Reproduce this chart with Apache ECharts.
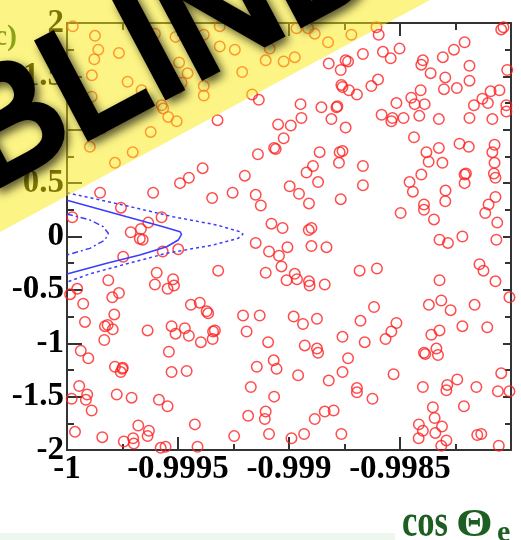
<!DOCTYPE html>
<html>
<head>
<meta charset="utf-8">
<script src="https://cdn.jsdelivr.net/npm/echarts@6.0.0/dist/echarts.min.js"></script>
<style>
  html, body { margin: 0; padding: 0; background: #fff; }
  #chart { width: 521px; height: 540px; }
</style>
</head>
<body>
<div id="chart"></div>
<script>
// Tick labels
const cosThetaTicks = ['-1', '-0.9995', '-0.999', '-0.9985', ''];
const yTicks = ['-2', '-1.5', '-1', '-0.5', '0', '0.5', '1', '1.5', '2'];

// Events [cosTheta_e, y], upper-left part of the plane
const eventsUpperLeft = [
  [-0.999974,1.97],[-0.999874,1.88],[-0.999859,1.75],[-0.999877,1.66],[-0.999766,1.72],
  [-0.999604,1.90],[-0.999511,1.87],[-0.999384,1.89],[-0.999312,1.97],[-0.999312,1.78],
  [-0.999244,1.75],[-0.999495,1.63],[-0.999457,1.53],[-0.999484,1.44],[-0.999499,1.39],
  [-0.999384,1.41],[-0.999384,1.32],[-0.999211,1.54],[-0.999166,1.33],[-0.999888,1.51],
  [-0.999727,1.45],[-0.999664,1.37],[-0.999889,1.31],[-0.999574,1.23],[-0.999567,1.20],
  [-0.999544,1.12],[-0.999506,1.08],[-0.999623,0.98],[-0.999844,1.01],[-0.999897,0.84],
  [-0.999704,0.79],[-0.999784,0.69],[-0.999322,1.09],[-0.999136,1.28],[-0.999140,0.77],
  [-0.999851,0.41],[-0.999612,0.41],[-0.999491,0.50],[-0.999451,0.55],[-0.999389,0.64],
  [-0.999199,0.57],[-0.999346,0.36],[-0.999254,0.41],[-0.999150,0.39],[-0.999757,0.27],
  [-0.999976,0.18],[-0.999574,0.18],[-0.999634,0.13],[-0.999713,0.04],[-0.999667,0.07],
  [-0.999672,-0.02],[-0.999659,-0.03],[-0.999569,-0.14],[-0.999499,-0.12],[-0.999747,-0.19],
  [-0.999150,-0.06],[-0.999127,0.29]
];

// Upper-right part
const eventsUpperRight = [
  [-0.998966,1.95],[-0.998914,1.95],[-0.998884,1.90],[-0.998824,1.82],[-0.998719,1.89],
  [-0.998606,1.96],[-0.998596,1.89],[-0.999119,1.85],[-0.999087,1.76],[-0.999105,1.65],
  [-0.999024,1.64],[-0.998974,1.68],
  [-0.998044,1.94],[-0.998034,1.96],[-0.998209,1.82],[-0.998257,1.75],[-0.998307,1.68],
  [-0.998397,1.65],[-0.998404,1.61],[-0.998362,1.53],[-0.998502,1.76],[-0.998542,1.67],
  [-0.998577,1.73],[-0.998667,1.71],[-0.998745,1.65],[-0.998734,1.64],[-0.998821,1.62],
  [-0.998767,1.56],[-0.998187,1.60],[-0.998017,1.56],[-0.998296,1.49],[-0.998187,1.46],
  [-0.998302,1.38],[-0.998244,1.39],[-0.998407,1.37],[-0.998449,1.30],[-0.998434,1.24],
  [-0.998389,1.24],[-0.998516,1.25],[-0.998583,1.14],[-0.998534,1.11],[-0.998539,1.08],
  [-0.998484,1.11],[-0.998413,1.13],[-0.998325,1.10],[-0.998187,1.11],[-0.998092,1.36],
  [-0.998052,1.37],[-0.998129,1.29],[-0.998167,1.23],[-0.998104,1.25],[-0.998021,1.23],
  [-0.998021,1.17],[-0.998084,1.10],[-0.998948,1.24],[-0.998854,1.21],[-0.998786,1.21],
  [-0.998782,1.22],[-0.998809,1.10],[-0.998944,1.11],[-0.998992,1.04],[-0.999049,1.05],
  [-0.998745,1.02],[-0.998694,1.33],[-0.998730,1.37],[-0.998764,1.42],[-0.998759,1.40],
  [-0.998629,1.41],[-0.998599,1.47],[-0.998437,0.93],[-0.998381,0.79],[-0.998325,0.83],
  [-0.998232,0.87],[-0.998190,0.84],[-0.998074,0.86],[-0.998084,0.79],[-0.998309,0.69],
  [-0.998371,0.70],[-0.998404,0.58],[-0.998457,0.51],[-0.998442,0.42],[-0.998295,0.43],
  [-0.998296,0.33],[-0.998392,0.30],[-0.998392,0.25],[-0.998497,0.22],[-0.998347,0.16],
  [-0.998209,0.58],[-0.998203,0.59],[-0.998209,0.50],[-0.998074,0.69],[-0.998077,0.59],
  [-0.998070,0.55],[-0.998070,0.37],[-0.998101,0.30],[-0.998116,0.22],[-0.998062,0.13],
  [-0.998066,-0.03],[-0.998219,0.00],[-0.998322,-0.03],[-0.998284,-0.06],[-0.998772,0.79],
  [-0.998759,0.80],[-0.998775,0.69],[-0.998862,0.79],[-0.998892,0.66],[-0.998921,0.60],
  [-0.998869,0.51],[-0.998997,0.47],[-0.998955,0.40],[-0.998910,0.31],[-0.998767,0.35],
  [-0.998667,0.66],[-0.998667,0.48],[-0.999024,0.92],[-0.999060,0.82],[-0.999067,0.83],
  [-0.999079,0.12],[-0.999029,0.08],[-0.998911,0.06],[-0.998899,0.08],[-0.999007,-0.10],
  [-0.998899,-0.09],[-0.998831,-0.10],[-0.999090,-0.14],[-0.999045,-0.18]
];

// Lower-left part
const eventsLowerLeft = [
  [-0.999596,-0.34],[-0.999522,-0.40],[-0.999604,-0.45],[-0.999547,-0.49],[-0.999518,-0.46],
  [-0.999319,-0.32],[-0.999954,-0.49],[-0.999986,-0.54],[-0.999814,-0.41],[-0.999766,-0.53],
  [-0.999796,-0.57],[-0.999927,-0.63],[-0.999919,-0.80],[-0.999787,-0.73],[-0.999829,-0.84],
  [-0.999817,-0.83],[-0.999794,-0.87],[-0.999832,-0.97],[-0.999637,-0.88],[-0.999529,-0.84],
  [-0.999511,-0.91],[-0.999469,-0.86],[-0.999451,-0.93],[-0.999442,-0.64],[-0.999402,-0.62],
  [-0.999371,-0.70],[-0.999364,-0.72],[-0.999397,-0.99],[-0.999344,-0.96],[-0.999342,-0.89],
  [-0.999334,-0.88],[-0.999207,-0.74],[-0.999191,-0.89],[-0.999132,-0.74],[-0.999938,-1.07],
  [-0.999904,-1.14],[-0.999541,-1.08],[-0.999529,-1.27],[-0.999461,-1.26],[-0.999784,-1.22],
  [-0.999749,-1.23],[-0.999758,-1.27],[-0.999751,-1.24],[-0.999145,-1.22],[-0.999172,-1.41],
  [-0.999945,-1.40],[-0.999909,-1.48],[-0.999915,-1.53],[-0.999979,-1.52],[-0.999889,-1.63],
  [-0.999776,-1.48],[-0.999709,-1.51],[-0.999586,-1.53],[-0.999547,-1.59],[-0.999184,-1.68],
  [-0.999424,-1.76],[-0.999679,-1.77],[-0.999631,-1.82],[-0.999637,-1.87],[-0.999964,-1.83],
  [-0.999841,-1.88],[-0.999744,-1.92],[-0.999702,-1.89],[-0.999699,-1.94],[-0.999578,-1.98],
  [-0.999556,-1.97],[-0.999412,-1.97],[-0.999247,-1.87]
];

// Lower-right part
const eventsLowerRight = [
  [-0.999105,-0.34],[-0.999034,-0.28],[-0.998974,-0.35],[-0.999011,-0.41],[-0.998964,-0.40],
  [-0.998910,-0.42],[-0.998907,-0.46],[-0.998839,-0.45],[-0.998682,-0.32],[-0.998604,-0.30],
  [-0.998142,-0.26],[-0.998124,-0.32],[-0.998070,-0.42],[-0.998007,-0.57],[-0.998322,-0.41],
  [-0.998314,-0.60],[-0.998370,-0.64],[-0.998272,-0.69],[-0.998164,-0.64],[-0.998979,-0.75],
  [-0.998937,-0.82],[-0.998874,-0.77],[-0.998617,-0.66],[-0.998678,-0.79],[-0.998516,-0.81],
  [-0.998539,-0.89],[-0.998565,-0.96],[-0.998659,-0.99],[-0.998759,-0.94],[-0.998322,-0.88],
  [-0.998359,-0.92],[-0.998219,-0.84],[-0.998107,-0.85],[-0.999094,-0.99],[-0.998929,-1.02],
  [-0.998874,-1.05],[-0.998869,-1.09],[-0.998734,-1.14],[-0.998759,-1.27],[-0.998821,-1.35],
  [-0.998959,-1.30],[-0.999069,-1.16],[-0.999056,-1.24],[-0.998529,-1.29],[-0.998392,-1.09],
  [-0.998386,-1.10],[-0.998336,-1.05],[-0.998329,-1.11],[-0.998242,-1.34],[-0.998287,-1.39],
  [-0.998291,-1.44],[-0.998397,-1.41],[-0.998694,-1.42],[-0.998694,-1.46],[-0.998624,-1.52],
  [-0.999067,-1.50],[-0.999105,-1.64],[-0.999109,-1.71],[-0.998839,-1.64],[-0.998799,-1.63],
  [-0.998884,-1.71],[-0.999090,-1.85],[-0.998989,-1.89],[-0.998932,-1.85],[-0.998764,-1.85],
  [-0.998415,-1.76],[-0.998397,-1.82],[-0.998416,-1.89],[-0.998344,-1.70],[-0.998352,-1.60],
  [-0.998311,-1.78],[-0.998341,-1.84],[-0.998314,-1.96],[-0.998291,-1.91],[-0.998212,-1.59],
  [-0.998156,-1.41],[-0.998044,-1.28],[-0.998059,-1.45],[-0.998007,-1.45],[-0.998152,-1.86],
  [-0.998134,-1.85],[-0.998055,-1.96]
];

// Contour lines
const contourInner = [
  [-1.0,0.21],[-0.999897,0.155],[-0.999837,0.092],[-0.999814,0.03],
  [-0.999829,-0.033],[-0.999897,-0.111],[-1.0,-0.173]
];
const contourMiddle = [
  [-1.0,0.34],[-0.999731,0.185],[-0.999567,0.092],[-0.999491,0.045],[-0.999484,0.02],
  [-0.999499,-0.033],[-0.999551,-0.096],[-0.999672,-0.173],[-0.999821,-0.251],[-1.0,-0.351]
];
const contourOuter = [
  [-1.0,0.41],[-0.999747,0.295],[-0.999522,0.185],[-0.999326,0.108],[-0.999221,0.045],
  [-0.999207,0.023],[-0.999229,-0.017],[-0.999342,-0.08],[-0.999551,-0.157],
  [-0.999747,-0.265],[-0.999897,-0.35],[-1.0,-0.426]
];

const chart = echarts.init(document.getElementById('chart'), null, { renderer: 'canvas' });

const axisColor = '#333333';
const tickFont = { fontFamily: '"Liberation Serif", "Times New Roman", serif', fontWeight: 'bold', fontSize: 33, color: '#000' };

function xAxisBase(extra) {
  return Object.assign({
    type: 'value', min: -1, max: -0.998, interval: 0.0005,
    axisLine: { show: true, onZero: false, lineStyle: { color: axisColor, width: 2 } },
    splitLine: { show: false },
    minorSplitLine: { show: false }
  }, extra);
}
function yAxisBase(extra) {
  return Object.assign({
    type: 'value', min: -2, max: 2, interval: 0.5,
    axisLine: { show: true, onZero: false, lineStyle: { color: axisColor, width: 2 } },
    splitLine: { show: false },
    minorSplitLine: { show: false }
  }, extra);
}

const lineBlue = '#3c3cff';
const greenTitle = '#1d5e22';

chart.setOption({
  animation: false,
  backgroundColor: '#ffffff',
  grid: { left: 67, right: 10, top: 23, bottom: 90, containLabel: false, outerBoundsMode: 'none' },
  xAxis: [
    xAxisBase({
      position: 'bottom',
      axisTick: { show: true, inside: true, length: 13, lineStyle: { color: axisColor, width: 2 } },
      minorTick: { show: true, splitNumber: 2, length: 6, lineStyle: { color: axisColor, width: 2 } },
      axisLabel: Object.assign({
        show: true, margin: 3, showMaxLabel: true, showMinLabel: true,
        formatter: v => cosThetaTicks[Math.round((v + 1) / 0.0005)] || ''
      }, tickFont)
    }),
    xAxisBase({
      position: 'top',
      axisTick: { show: true, inside: true, length: 13, lineStyle: { color: axisColor, width: 2 } },
      minorTick: { show: true, splitNumber: 2, length: 7, lineStyle: { color: axisColor, width: 2 } },
      axisLabel: { show: false }
    })
  ],
  yAxis: [
    yAxisBase({
      position: 'left',
      axisTick: { show: true, inside: true, length: 15, lineStyle: { color: axisColor, width: 2 } },
      minorTick: { show: true, splitNumber: 2, length: 7, lineStyle: { color: axisColor, width: 2 } },
      axisLabel: Object.assign({
        show: true, margin: 3, showMaxLabel: true, showMinLabel: true,
        formatter: v => yTicks[Math.round((v + 2) / 0.5)] || ''
      }, tickFont)
    }),
    yAxisBase({
      position: 'right',
      axisTick: { show: true, inside: true, length: 8, lineStyle: { color: axisColor, width: 2 } },
      minorTick: { show: true, splitNumber: 2, length: 6, lineStyle: { color: axisColor, width: 2 } },
      axisLabel: { show: false }
    })
  ],
  series: [
    {
      type: 'scatter',
      xAxisIndex: 0, yAxisIndex: 0,
      data: [].concat(eventsUpperLeft, eventsUpperRight, eventsLowerLeft, eventsLowerRight),
      symbol: 'circle',
      symbolSize: 10.5,
      itemStyle: { color: 'rgba(0,0,0,0)', borderColor: '#ff2020', borderWidth: 1.5 },
      emphasis: { disabled: true },
      z: 2
    },
    {
      type: 'line', data: contourInner, showSymbol: false, z: 3,
      lineStyle: { color: lineBlue, width: 1.5, type: [6, 3, 2, 3] }
    },
    {
      type: 'line', data: contourMiddle, showSymbol: false, z: 3,
      lineStyle: { color: lineBlue, width: 1.5, type: 'solid' }
    },
    {
      type: 'line', data: contourOuter, showSymbol: false, z: 3,
      lineStyle: { color: lineBlue, width: 1.5, type: [3, 3] }
    }
  ],
  graphic: {
    elements: [
      // fragment of the vertical title at the far left
      {
        type: 'text', x: 17, y: 37, z: 50,
        style: { text: 'c)', font: 'bold 30px "Liberation Serif", serif', fill: greenTitle, align: 'right', verticalAlign: 'middle' }
      },
      // axis title
      {
        type: 'text', x: 402, y: 524, scaleX: 0.75, z: 50,
        style: { text: 'cos', font: 'bold 46px "Liberation Serif", serif', fill: greenTitle, align: 'left', verticalAlign: 'middle' }
      },
      {
        type: 'text', x: 456, y: 525, scaleX: 1.15, z: 50,
        style: { text: 'Θ', font: 'bold 41px "Liberation Serif", serif', fill: greenTitle, align: 'left', verticalAlign: 'middle' }
      },
      {
        type: 'text', x: 497, y: 533, z: 50,
        style: { text: 'e', font: 'bold 30px "Liberation Serif", serif', fill: greenTitle, align: 'left', verticalAlign: 'middle' }
      },
      // pale strip along the bottom edge
      {
        type: 'rect', z: 50,
        shape: { x: 0, y: 533, width: 395, height: 7 },
        style: { fill: '#eef7ee' }
      },
      // translucent yellow sash across the corner
      {
        type: 'polygon', z: 100,
        shape: { points: [[-10, -10], [448.5, -10], [-10, 237.4]] },
        style: { fill: 'rgba(250,234,10,0.5)' }
      },
      // stamp
      {
        type: 'text', x: -33, y: 153, rotation: 28 * Math.PI / 180, z: 110,
        style: {
          text: 'BLIND',
          fontFamily: '"Liberation Sans", Arial, sans-serif', fontSize: 155, fontWeight: 'normal',
          fill: '#000', stroke: '#000', lineWidth: 8, lineJoin: 'round',
          align: 'left', verticalAlign: 'middle',
          textShadowBlur: 10, textShadowColor: 'rgba(0,0,0,0.55)',
          textShadowOffsetX: 4, textShadowOffsetY: 4
        }
      }
    ]
  }
});
</script>
</body>
</html>
